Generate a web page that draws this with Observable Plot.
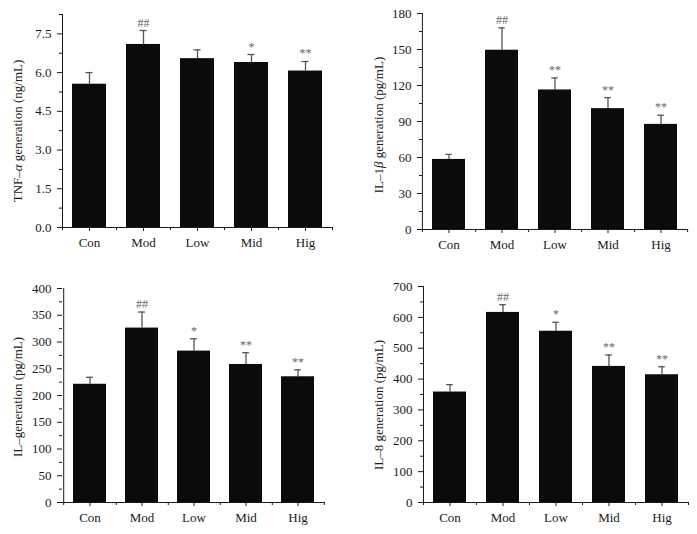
<!DOCTYPE html>
<html><head><meta charset="utf-8">
<script src="https://cdn.jsdelivr.net/npm/d3@7"></script>
<script src="https://cdn.jsdelivr.net/npm/@observablehq/plot@0.6"></script>
<style>
body{margin:0;background:#fff;}
#grid{display:grid;grid-template-columns:350px 347px;grid-template-rows:265px 269px;width:697px;height:534px;}
#grid svg{display:block;overflow:visible}
</style></head><body><div id="grid"></div>
<script>
const groups = ["Con", "Mod", "Low", "Mid", "Hig"];

const tnfMean = [5.55, 7.09, 6.54, 6.39, 6.06];
const tnfSD   = [0.45, 0.54, 0.34, 0.31, 0.37];
const tnfSig  = ["", "##", "", "*", "**"];
const tnfTicks = [0, 1.5, 3.0, 4.5, 6.0, 7.5];
const tnfMinor = [0.75, 2.25, 3.75, 5.25, 6.75, 8.25];

const il1Mean = [58.4, 149.4, 116.3, 100.7, 87.6];
const il1SD   = [4.2, 18.6, 10.0, 9.2, 7.6];
const il1Sig  = ["", "##", "**", "**", "**"];
const il1Ticks = [0, 30, 60, 90, 120, 150, 180];
const il1Minor = [15, 45, 75, 105, 135, 165];

const ilMean = [221, 326, 283, 258, 235];
const ilSD   = [13, 30, 23, 22, 13];
const ilSig  = ["", "##", "*", "**", "**"];
const ilTicks = [0, 50, 100, 150, 200, 250, 300, 350, 400];
const ilMinor = [25, 75, 125, 175, 225, 275, 325, 375];

const il8Mean = [358, 616, 555, 441, 414];
const il8SD   = [24, 25, 29, 37, 26];
const il8Sig  = ["", "##", "*", "**", "**"];
const il8Ticks = [0, 100, 200, 300, 400, 500, 600, 700];
const il8Minor = [50, 150, 250, 350, 450, 550, 650];

const panels = [
  {mean: tnfMean, sd: tnfSD, sig: tnfSig, majors: tnfTicks, minors: tnfMinor, top: 8.25, fmt: d3.format(".1f"),
   label: [["TNF–", false], ["α", true], [" generation (ng/mL)", false]],
   width: 350, height: 265, ml: 62, mr: 18, mt: 14, mb: 38, lx: 17, ly: 131},
  {mean: il1Mean, sd: il1SD, sig: il1Sig, majors: il1Ticks, minors: il1Minor, top: 180, fmt: d3.format("d"),
   label: [["IL–1", false], ["β", true], [" generation (pg/mL)", false]],
   width: 347, height: 265, ml: 72, mr: 9, mt: 13, mb: 36, lx: 28, ly: 125},
  {mean: ilMean, sd: ilSD, sig: ilSig, majors: ilTicks, minors: ilMinor, top: 400, fmt: d3.format("d"),
   label: [["IL–generation (pg/mL)", false]],
   width: 350, height: 269, ml: 62, mr: 25, mt: 23, mb: 32, lx: 17, ly: 132},
  {mean: il8Mean, sd: il8SD, sig: il8Sig, majors: il8Ticks, minors: il8Minor, top: 700, fmt: d3.format("d"),
   label: [["IL–8 generation (pg/mL)", false]],
   width: 347, height: 269, ml: 73, mr: 9, mt: 21, mb: 32, lx: 28, ly: 140}
];

const ink = "#1a1a1a";
const errInk = "#555";

function panel(cfg) {
  const {width, height, ml, mr, mt, mb} = cfg;
  const pi = 0.37;
  const step = (width - ml - mr) / groups.length;
  const bw = step * (1 - pi);
  const capInset = (bw - 7) / 2;
  const data = groups.map((g, i) => ({g, m: cfg.mean[i], u: cfg.mean[i] + cfg.sd[i], s: cfg.sig[i]}));
  const blank = () => "";
  const chart = Plot.plot({
    width, height, marginLeft: ml, marginRight: mr, marginTop: mt, marginBottom: mb,
    style: {fontFamily: "'Liberation Serif', 'DejaVu Serif', serif", fontSize: "13px", color: ink, background: "transparent"},
    x: {domain: groups, paddingInner: pi, paddingOuter: pi / 2, label: null},
    y: {domain: [0, cfg.top], label: null},
    marks: [
      Plot.ruleX(data, {x: "g", y1: "m", y2: "u", stroke: errInk, strokeWidth: 1.3}),
      Plot.tickY(data, {x: "g", y: "u", stroke: errInk, strokeWidth: 1.3, insetLeft: capInset, insetRight: capInset}),
      Plot.barY(data, {x: "g", y: "m", fill: "#0b0b0b"}),
      Plot.text(data, {x: "g", y: "u", text: "s", dy: -4, lineAnchor: "bottom", fill: "#666", fontSize: 12}),
      Plot.ruleY([0], {stroke: ink}),
      Plot.ruleX(["Con"], {x: d => d, dx: -step / 2, y1: 0, y2: cfg.top, stroke: ink}),
      Plot.axisY({ticks: cfg.majors, tickSize: 5, tickPadding: 6, tickFormat: cfg.fmt, label: null, stroke: ink, fill: ink}),
      Plot.axisY({ticks: cfg.minors, tickSize: 3, tickFormat: blank, label: null, stroke: ink}),
      Plot.axisX({tickSize: 4, tickPadding: 6, label: null, stroke: ink, fill: ink}),
      Plot.axisX({tickSize: 3, tickFormat: blank, label: null, dx: step / 2, stroke: ink}),
      Plot.axisX({ticks: ["Con"], tickSize: 3, tickFormat: blank, label: null, dx: -step / 2, stroke: ink})
    ]
  });
  const svg = d3.select(chart);
  const t = svg.append("text")
    .attr("transform", `translate(${cfg.lx},${cfg.ly}) rotate(-90)`)
    .attr("text-anchor", "middle")
    .attr("dominant-baseline", "central")
    .attr("fill", ink)
    .style("font-family", "'Liberation Serif', 'DejaVu Serif', serif")
    .style("font-size", "13px");
  cfg.label.forEach(([s, it]) => {
    const ts = t.append("tspan").text(s);
    if (it) ts.style("font-style", "italic");
  });
  return chart;
}

const grid = document.getElementById("grid");
panels.forEach(p => grid.appendChild(panel(p)));
</script>
</body></html>
